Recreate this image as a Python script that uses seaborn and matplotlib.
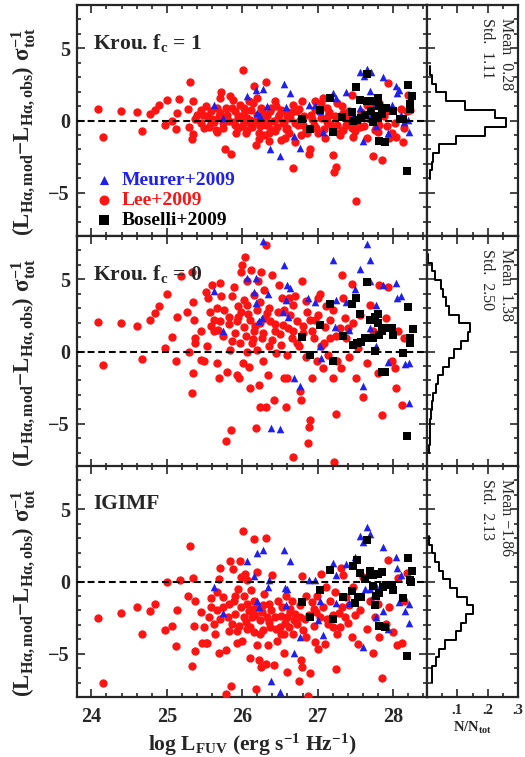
import numpy as np
import pandas as pd
import matplotlib
matplotlib.use("Agg")
import matplotlib.pyplot as plt
from matplotlib.ticker import MultipleLocator, FuncFormatter
import seaborn as sns

# -----------------------------
# Panel 1 : Krou. fc = 1
# -----------------------------
lee1_x = [24.09, 24.15, 24.39, 24.60, 24.67, 24.78, 24.84, 24.90, 24.98, 25.00,
          25.07, 25.12, 25.13, 25.16, 25.28, 25.30, 25.31, 25.33, 25.35, 25.35,
          25.38, 25.40, 25.45, 25.46, 25.48, 25.49, 25.52, 25.54, 25.56, 25.58,
          25.59, 25.60, 25.63, 25.65, 25.66, 25.67, 25.69, 25.70, 25.71, 25.72,
          25.74, 25.75, 25.77, 25.78, 25.80, 25.82, 25.84, 25.85, 25.86, 25.88,
          25.89, 25.90, 25.91, 25.92, 25.94, 25.95, 25.97, 25.98, 26.00, 26.01,
          26.02, 26.03, 26.04, 26.05, 26.06, 26.07, 26.09, 26.10, 26.11, 26.12,
          26.13, 26.14, 26.15, 26.16, 26.18, 26.19, 26.20, 26.21, 26.22, 26.22,
          26.23, 26.24, 26.25, 26.27, 26.29, 26.30, 26.31, 26.32, 26.33, 26.34,
          26.35, 26.36, 26.37, 26.38, 26.40, 26.42, 26.43, 26.44, 26.45, 26.46,
          26.47, 26.49, 26.51, 26.52, 26.54, 26.55, 26.57, 26.58, 26.58, 26.60,
          26.60, 26.62, 26.64, 26.66, 26.68, 26.68, 26.70, 26.70, 26.72, 26.74,
          26.75, 26.77, 26.78, 26.79, 26.80, 26.82, 26.84, 26.86, 26.88, 26.90,
          26.91, 26.93, 26.95, 26.96, 26.97, 26.98, 27.01, 27.02, 27.04, 27.05,
          27.07, 27.08, 27.10, 27.12, 27.12, 27.14, 27.15, 27.18, 27.20, 27.22,
          27.23, 27.25, 27.26, 27.26, 27.28, 27.30, 27.32, 27.33, 27.34, 27.36,
          27.38, 27.40, 27.42, 27.44, 27.45, 27.46, 27.47, 27.50, 27.51, 27.52,
          27.55, 27.56, 27.58, 27.60, 27.62, 27.65, 27.66, 27.69, 27.70, 27.73,
          27.75, 27.76, 27.78, 27.80, 27.82, 27.82, 27.86, 27.88, 27.91, 27.92,
          27.93, 27.95, 27.98, 28.02, 28.04, 28.10, 28.13, 28.15, 28.18, 28.20, 28.22]
lee1_y = [0.79, -1.12, 0.63, 0.56, -0.70, 0.47, 0.75, 1.05, -0.30, 1.40,
          0.00, -0.60, 0.51, 1.50, 0.82, -0.42, 2.66, -1.31, -0.93, 1.33,
          0.12, 0.40, -0.19, 0.75, 0.40, -0.54, 0.98, 0.28, -0.42, -0.20,
          0.63, 0.10, -0.07, -0.65, -0.80, 0.86, 0.28, 0.50, 1.57, 1.99,
          -0.19, -0.50, -1.94, 0.90, 0.35, 0.00, 1.73, -2.29, 0.90, 1.45,
          -0.07, -0.30, 0.63, -0.90, -0.54, 0.30, 1.05, 0.28, -0.40, 3.48,
          -0.07, 0.90, 0.63, -0.90, 0.20, -0.65, 1.33, -0.20, 0.05, 0.70,
          -0.42, 1.20, 2.38, -0.10, -1.71, 0.35, 1.57, 0.20, -0.89, -1.30,
          0.00, -0.40, 0.86, 0.50, -1.00, 0.10, 2.69, -0.30, 0.28, -0.30,
          -1.43, -0.90, 0.63, 0.90, -0.65, 0.00, -0.70, 1.33, 1.00, -0.42,
          0.20, 0.40, -1.36, 0.70, -0.19, -0.10, -1.24, 0.63, -0.60, -0.54,
          0.30, -0.90, 0.16, 0.60, -3.27, 1.10, -1.47, -0.20, 0.63, -0.30,
          0.80, 0.05, -1.00, 1.33, -0.30, 0.30, -0.65, -0.90, -2.29, -1.94,
          0.40, 0.10, -0.30, 0.80, 1.33, -0.50, -0.89, 0.63, 0.20, 1.21,
          1.57, -0.60, -1.24, -0.07, 0.90, 0.28, 0.60, -0.30, -2.41, -3.57,
          0.30, -3.22, -0.30, 1.20, -0.90, -1.00, 0.98, 0.50, -0.65, 0.16,
          -0.30, -0.20, 0.63, 0.30, 1.80, -0.50, -1.12, -0.70, -5.56, -0.19,
          0.20, -0.42, 0.60, 0.28, -0.40, 1.10, -1.20, 0.40, 0.10, -2.45,
          1.10, -0.65, -0.50, -0.77, 1.21, -0.30, -2.76, 0.30, 0.63, -0.40,
          2.62, -1.20, -0.89, -0.20, -1.12, 0.80, -1.47, -0.50, 0.63, 1.80, 0.70]
meu1_x = [25.63, 25.74, 26.06, 26.18, 26.20, 26.24, 26.28, 26.33, 26.37, 26.50,
          26.56, 26.58, 26.63, 26.69, 26.76, 26.88, 26.97, 27.03, 27.07, 27.21,
          27.25, 27.38, 27.45, 27.49, 27.56, 27.56, 27.60, 27.61, 27.65, 27.69,
          27.70, 27.71, 27.78, 27.78, 27.87, 27.93, 27.98, 28.04, 28.05, 28.08,
          28.11, 28.15, 28.20, 28.21]
meu1_y = [1.10, 0.16, 1.68, 2.08, 0.51, 0.28, 2.15, 0.98, -1.94, -2.45,
          2.50, 0.91, 1.92, -1.05, -1.89, 1.10, 1.10, 0.63, -0.77, 1.92,
          1.57, 1.96, 0.16, 2.38, 3.39, 0.86, -1.43, 3.08, 3.55, 0.16,
          2.03, 3.39, 1.21, -0.35, 3.01, -0.89, 1.10, 2.38, 1.92, 2.08,
          0.40, -0.12, 0.05, -0.77]
bos1_x = [26.79, 26.90, 27.03, 27.17, 27.20, 27.32, 27.46, 27.47, 27.51, 27.52,
          27.56, 27.57, 27.63, 27.65, 27.65, 27.71, 27.74, 27.74, 27.76, 27.80,
          27.80, 27.82, 27.82, 27.85, 27.89, 27.91, 28.00, 28.09, 28.13, 28.18,
          28.20, 28.22, 28.23, 28.25]
bos1_y = [0.12, -0.58, 0.70, 1.57, -0.82, 0.21, 0.56, 0.00, 2.31, 0.05,
          1.40, 0.16, 0.40, 3.20, 1.33, 0.63, 1.33, -0.07, 0.28, 1.57,
          0.16, 0.98, -1.43, 0.44, -1.52, 0.86, 0.63, 0.12, 0.12, -3.53,
          2.45, 0.82, 1.14, 1.68]
hist1_edges = [-4.05, -3.45, -2.85, -2.25, -1.65, -1.05, -0.45, 0.15, 0.75,
               1.35, 1.95, 2.55, 3.15, 3.75]
hist1_frac = [0.009, 0.016, 0.021, 0.040, 0.097, 0.191, 0.262, 0.224, 0.124,
              0.062, 0.029, 0.016, 0.009]

# -----------------------------
# Panel 2 : Krou. fc = 0
# -----------------------------
lee2_x = [24.09, 24.15, 24.39, 24.60, 24.67, 24.78, 24.84, 24.90, 24.98, 25.00,
          25.07, 25.12, 25.13, 25.19, 25.27, 25.30, 25.33, 25.33, 25.35, 25.35,
          25.36, 25.37, 25.38, 25.45, 25.46, 25.49, 25.52, 25.54, 25.55, 25.57,
          25.59, 25.60, 25.63, 25.66, 25.67, 25.69, 25.71, 25.71, 25.72, 25.75,
          25.78, 25.80, 25.82, 25.84, 25.85, 25.86, 25.89, 25.91, 25.93, 25.93,
          25.94, 25.96, 25.97, 25.98, 25.99, 26.00, 26.01, 26.02, 26.04, 26.06,
          26.07, 26.07, 26.09, 26.10, 26.11, 26.12, 26.13, 26.15, 26.15, 26.18,
          26.19, 26.20, 26.21, 26.22, 26.23, 26.24, 26.25, 26.26, 26.28, 26.29,
          26.31, 26.32, 26.33, 26.34, 26.35, 26.37, 26.40, 26.42, 26.44, 26.45,
          26.47, 26.49, 26.51, 26.53, 26.54, 26.56, 26.58, 26.59, 26.60, 26.62,
          26.64, 26.66, 26.68, 26.68, 26.70, 26.73, 26.75, 26.77, 26.78, 26.79,
          26.81, 26.84, 26.86, 26.87, 26.88, 26.90, 26.90, 26.92, 26.95, 26.97,
          26.99, 27.01, 27.03, 27.05, 27.07, 27.10, 27.11, 27.14, 27.17, 27.20,
          27.21, 27.22, 27.25, 27.26, 27.29, 27.31, 27.32, 27.34, 27.36, 27.38,
          27.42, 27.45, 27.47, 27.51, 27.53, 27.56, 27.60, 27.65, 27.69, 27.74,
          27.80, 27.82, 27.86, 27.91, 27.93, 27.98, 28.02, 28.04, 28.06, 28.12, 28.15,
          25.62, 25.68, 25.76, 25.83, 25.87, 25.95, 26.03, 26.05, 26.08, 26.14,
          26.17, 26.23, 26.27, 26.30, 26.36, 26.39, 26.43, 26.50, 26.55, 26.61,
          26.67, 26.72, 26.80, 26.85, 26.93, 27.00, 27.08, 27.16, 27.24, 27.40]
lee2_y = [2.03, -0.92, 1.96, 1.80, -0.51, 2.15, 2.66, 3.12, 0.23, 3.97,
          0.97, -0.69, 2.36, 5.20, 2.77, -0.05, 5.54, -2.89, -1.50, 3.46,
          2.19, 0.92, 0.58, 1.39, -0.58, -0.69, 4.11, 0.35, 3.74, 2.77,
          1.80, 4.62, 1.39, 3.00, -0.81, -1.85, 4.73, 2.08, 3.81, 1.04,
          -6.19, -1.39, 2.42, 0.12, -5.43, 3.81, 4.50, 1.27, -1.62, 2.08,
          3.12, -1.85, 0.58, 5.54, 2.77, 6.00, -0.81, 1.73, 6.58, 4.85,
          0.00, 3.23, -1.04, 2.19, -2.54, 5.66, 0.58, 3.93, 1.39, -5.31,
          2.89, 0.12, 4.85, -2.31, -3.81, 1.96, 5.54, 0.92, -0.69, 4.27,
          7.39, -3.81, 2.66, -1.62, 0.35, 2.08, 5.31, -3.35, 1.39, -0.12,
          2.77, 4.62, 0.46, 3.70, 1.85, -1.85, -3.81, -1.85, -0.23, 3.70,
          2.54, 0.92, -7.34, 1.39, 3.81, 2.08, 0.35, -2.77, -3.35, 4.85,
          1.27, -0.35, 2.72, -6.35, -5.20, -4.73, 2.19, -1.85, 0.92, 2.19,
          -0.69, 3.70, 3.97, 0.35, -1.15, 1.73, 3.12, -0.23, 0.92, -1.85,
          2.89, -7.62, -4.34, -0.69, 1.62, -1.15, 5.31, 3.70, 2.31, 0.92,
          -0.35, 4.66, 1.96, -1.85, 0.23, 2.54, -3.12, -0.81, 3.23, 1.39,
          -1.50, 4.62, -4.39, 2.31, 4.50, -0.69, -1.15, -2.54, 1.39, -3.70, 0.92,
          2.20, 1.50, 2.90, 1.90, 0.70, 2.40, 3.60, 1.10, 2.60, 0.90,
          1.80, 3.40, 1.30, 2.30, 3.00, 0.80, 1.90, 1.20, 2.90, 1.60,
          3.20, 0.60, 1.80, 3.50, 1.40, 2.50, 0.60, 2.20, 1.10, 1.60]
meu2_x = [25.63, 25.75, 26.06, 26.15, 26.18, 26.18, 26.22, 26.26, 26.28, 26.34,
          26.38, 26.50, 26.54, 26.56, 26.58, 26.59, 26.61, 26.64, 26.69, 26.77,
          26.87, 26.96, 27.03, 27.05, 27.21, 27.23, 27.25, 27.37, 27.41, 27.49,
          27.56, 27.60, 27.65, 27.69, 27.69, 27.70, 27.74, 27.78, 27.78, 27.87,
          27.93, 28.04, 28.05, 28.11, 28.16, 28.21, 28.21]
meu2_y = [4.16, 1.39, 5.08, 4.09, 5.08, 3.35, 2.08, 2.31, 7.67, 3.97,
          -5.31, -5.36, 2.77, 6.00, 3.58, 4.62, 2.36, 4.43, -1.85, -2.36,
          3.70, 3.46, 0.35, -0.42, 6.35, 1.73, 3.58, 3.46, 1.50, 4.34,
          5.73, -2.36, 7.46, 4.85, 1.62, 6.35, 1.04, 3.19, 0.35, 4.62,
          -0.76, 4.73, 3.70, 3.81, -0.88, -0.81, -3.58]
bos2_x = [26.79, 26.90, 27.03, 27.17, 27.20, 27.33, 27.46, 27.47, 27.51, 27.52,
          27.56, 27.58, 27.63, 27.65, 27.69, 27.74, 27.76, 27.76, 27.80, 27.80,
          27.82, 27.85, 27.85, 27.89, 27.91, 27.98, 28.00, 28.13, 28.18, 28.20,
          28.22, 28.23, 28.26]
bos2_y = [0.97, -0.23, 1.85, 3.28, -0.65, 1.04, 3.28, 0.46, 3.74, 0.58,
          2.59, 0.69, 0.92, 4.80, 2.19, 0.92, 0.05, 2.42, 2.59, 1.96,
          1.15, 1.39, -1.39, -1.39, 1.62, 1.66, 1.11, -0.12, -5.82, 3.05,
          0.58, 0.92, 1.57]
hist2_edges = [-7.05, -6.45, -5.85, -5.25, -4.65, -4.05, -3.45, -2.85, -2.25,
               -1.65, -1.05, -0.45, 0.15, 0.75, 1.35, 1.95, 2.55, 3.15, 3.75,
               4.35, 4.95, 5.55, 6.15, 6.75]
hist2_frac = [0.007, 0.009, 0.009, 0.010, 0.013, 0.016, 0.021, 0.029, 0.036,
              0.054, 0.071, 0.088, 0.112, 0.134, 0.143, 0.104, 0.073, 0.062,
              0.054, 0.047, 0.027, 0.016, 0.004]

# -----------------------------
# Panel 3 : IGIMF
# -----------------------------
lee3_x = [24.09, 24.15, 24.39, 24.60, 24.67, 24.78, 24.84, 24.98, 25.00, 25.07,
          25.12, 25.13, 25.17, 25.28, 25.31, 25.34, 25.35, 25.36, 25.37, 25.38,
          25.45, 25.47, 25.49, 25.52, 25.54, 25.56, 25.58, 25.59, 25.62, 25.64,
          25.66, 25.67, 25.69, 25.69, 25.71, 25.74, 25.75, 25.78, 25.79, 25.81,
          25.83, 25.84, 25.85, 25.86, 25.88, 25.89, 25.91, 25.93, 25.93, 25.94,
          25.96, 25.97, 25.98, 25.99, 26.00, 26.01, 26.02, 26.03, 26.04, 26.06,
          26.07, 26.07, 26.09, 26.10, 26.11, 26.12, 26.13, 26.15, 26.15, 26.16,
          26.18, 26.19, 26.20, 26.21, 26.22, 26.23, 26.24, 26.25, 26.26, 26.28,
          26.29, 26.31, 26.32, 26.33, 26.34, 26.36, 26.37, 26.40, 26.42, 26.44,
          26.46, 26.48, 26.50, 26.51, 26.53, 26.55, 26.56, 26.58, 26.59, 26.60,
          26.62, 26.64, 26.66, 26.68, 26.70, 26.73, 26.75, 26.77, 26.78, 26.79,
          26.79, 26.81, 26.84, 26.85, 26.87, 26.88, 26.90, 26.92, 26.95, 26.95,
          26.97, 26.99, 27.01, 27.03, 27.05, 27.07, 27.10, 27.11, 27.14, 27.17,
          27.20, 27.21, 27.23, 27.25, 27.26, 27.30, 27.31, 27.32, 27.34, 27.36,
          27.38, 27.42, 27.45, 27.47, 27.49, 27.53, 27.56, 27.60, 27.65, 27.69,
          27.73, 27.76, 27.80, 27.82, 27.86, 27.91, 27.93, 27.95, 28.00, 28.05,
          28.06, 28.12, 28.14, 28.18,
          25.70, 25.82, 25.90, 26.05, 26.14, 26.17, 26.27, 26.35, 26.38, 26.45,
          26.52, 26.57, 26.63, 26.69, 26.76, 26.83, 26.98, 27.12, 27.28, 27.40]
lee3_y = [-2.54, -7.02, -2.19, -1.78, -3.63, -2.06, -1.59, -3.39, 0.00, -3.09,
          -4.50, -1.96, 0.12, -0.97, 2.45, -5.82, 0.25, -3.05, -4.78, -1.32,
          -2.12, -4.27, -3.12, -4.27, -4.27, -2.47, -1.13, -1.78, -2.93, -3.63,
          -0.74, -1.96, 0.18, -4.97, 0.95, -1.09, -1.78, -7.78, -4.73, -2.47,
          -1.55, 1.45, -7.27, -2.93, 0.88, -1.32, -2.24, -4.27, -3.44, -0.51,
          -3.05, 1.41, 0.30, -1.78, -4.09, 3.53, -0.97, -2.47, 0.53, -1.55,
          -3.28, 0.07, -2.01, -5.29, -3.16, -0.62, -2.47, -1.32, -3.51, 2.93,
          -7.44, -4.43, 0.65, -1.78, -5.43, -2.70, -3.63, -5.94, -2.12, -3.39,
          -0.85, 3.03, -5.70, -2.47, -4.43, -1.55, -3.16, 0.42, -5.75, -2.47,
          -4.09, -1.32, -3.16, -3.67, -1.78, -4.97, -3.63, -0.97, -6.28, -2.47,
          -3.12, -1.89, -1.32, -3.63, -2.24, -2.93, -6.86, -2.47, -5.47, -5.94,
          0.35, -3.39, -0.97, -3.86, -7.90, -2.29, -6.35, -1.43, -3.05, -1.89,
          -4.20, -0.97, -4.66, -2.47, 0.53, -1.78, -4.36, -0.35, -2.93, -1.32,
          -2.29, -3.16, -0.74, -6.05, -3.63, -3.16, 0.95, -1.78, 0.42, -2.47,
          -1.09, -1.66, -3.86, -0.39, -2.29, -4.36, -1.96, 0.30, -3.28, -1.32,
          -4.97, -2.47, -1.55, -3.86, -6.67, -2.93, 1.50, -1.78, -3.51, -4.43,
          0.25, -4.27, -1.32, 0.58,
          -2.60, -3.40, -1.00, -2.80, -1.90, -2.30, -1.60, -2.80, -2.00, -3.30,
          -2.40, -2.90, -2.10, -2.70, -1.60, -2.60, -2.10, -2.60, -2.20, -2.90]
meu3_x = [25.63, 25.75, 26.06, 26.15, 26.19, 26.20, 26.22, 26.28, 26.34, 26.36,
          26.38, 26.50, 26.56, 26.57, 26.58, 26.60, 26.64, 26.69, 26.77, 26.88,
          26.96, 27.01, 27.03, 27.07, 27.21, 27.25, 27.25, 27.38, 27.41, 27.49,
          27.56, 27.60, 27.60, 27.63, 27.65, 27.70, 27.70, 27.74, 27.78, 27.78,
          27.87, 27.87, 27.93, 28.04, 28.05, 28.08, 28.11, 28.16, 28.21, 28.21]
meu3_y = [-0.39, -2.19, 1.41, 0.35, 1.96, -1.32, -1.78, 2.19, -0.35, 0.07,
          -6.91, -7.62, 2.15, -0.44, -1.66, -0.51, 1.45, -4.97, -3.86, 0.12,
          0.12, -2.66, -1.32, -3.74, 1.27, 0.48, -1.50, 1.22, -1.50, 1.69,
          3.12, 2.73, -4.55, -0.51, 3.76, 3.26, -0.51, -0.97, -2.47, -0.28,
          2.38, -2.01, -3.28, 1.69, 0.95, -1.43, 0.42, -2.01, -1.55, -2.89]
bos3_x = [26.79, 26.90, 27.03, 27.17, 27.20, 27.33, 27.46, 27.47, 27.49, 27.52,
          27.54, 27.56, 27.58, 27.63, 27.65, 27.70, 27.74, 27.74, 27.76, 27.78,
          27.80, 27.82, 27.82, 27.85, 27.87, 27.89, 27.91, 27.98, 28.00, 28.13,
          28.18, 28.20, 28.23, 28.24, 28.25]
bos3_y = [-1.43, -2.47, -0.58, 0.83, -2.59, -1.04, -0.67, 1.04, -1.50, 1.50,
          -1.04, 0.58, -1.09, 0.18, 2.89, 0.76, 0.42, -0.28, -1.66, -0.97,
          0.53, -0.81, -3.05, 0.65, -0.35, -3.16, -0.21, -0.21, -0.58, -1.13,
          -5.13, 1.64, 0.12, -0.05, 0.76]
hist3_edges = [-7.05, -6.45, -5.85, -5.25, -4.65, -4.05, -3.45, -2.85, -2.25,
               -1.65, -1.05, -0.45, 0.15, 0.75, 1.35, 1.95, 2.55, 3.15]
hist3_frac = [0.018, 0.018, 0.029, 0.040, 0.060, 0.096, 0.113, 0.127, 0.152,
              0.132, 0.099, 0.077, 0.054, 0.040, 0.027, 0.016, 0.007]

panel_labels = [r"Krou. f$_c$ = 1", r"Krou. f$_c$ = 0", "IGIMF"]
mean_labels = ["Mean  0.28", "Mean  1.38", "Mean \u22121.86"]
std_labels = ["Std.  1.11", "Std.  2.50", "Std.  2.13"]
survey_names = ["Meurer+2009", "Lee+2009", "Boselli+2009"]

# -----------------------------
# Style
# -----------------------------
sns.set_style("ticks")
plt.rcParams["font.family"] = ["Liberation Serif", "DejaVu Serif"]
plt.rcParams["font.weight"] = "bold"
plt.rcParams["axes.labelweight"] = "bold"
plt.rcParams["mathtext.fontset"] = "custom"
plt.rcParams["mathtext.rm"] = "Liberation Serif:bold"
plt.rcParams["mathtext.it"] = "Liberation Serif:bold:italic"
plt.rcParams["mathtext.bf"] = "Liberation Serif:bold"
plt.rcParams["mathtext.default"] = "rm"
plt.rcParams["axes.linewidth"] = 1.6

RED = "#ff1414"
BLUE = "#2020ee"
BLACK = "black"

W, H = 525, 757
fig = plt.figure(figsize=(W / 100, H / 100), dpi=100)


def px_axes(x0, x1, ytop, h):
    return fig.add_axes([x0 / W, 1 - (ytop + h) / H, (x1 - x0) / W, h / H])


panels = [
    (lee1_x, lee1_y, meu1_x, meu1_y, bos1_x, bos1_y, hist1_edges, hist1_frac),
    (lee2_x, lee2_y, meu2_x, meu2_y, bos2_x, bos2_y, hist2_edges, hist2_frac),
    (lee3_x, lee3_y, meu3_x, meu3_y, bos3_x, bos3_y, hist3_edges, hist3_frac),
]
row_tops = [5, 236, 466]
row_h = 231

for i, (lx, ly, mx, my, bx, by, edges, frac) in enumerate(panels):
    ax = px_axes(77, 427, row_tops[i], row_h)
    hax = px_axes(427, 518, row_tops[i], row_h)

    # scatter
    sns.scatterplot(x=lx, y=ly, marker="o", s=36, color=RED, linewidth=0,
                    ax=ax, legend=False, zorder=3)
    sns.scatterplot(x=mx, y=my, marker="^", s=30, color=BLUE, linewidth=0,
                    ax=ax, legend=False, zorder=4)
    sns.scatterplot(x=bx, y=by, marker="s", s=32, color=BLACK, linewidth=0,
                    ax=ax, legend=False, zorder=5)
    ax.axhline(0, color="black", lw=1.5, ls=(0, (3.3, 1.8)), zorder=6)

    ax.set_xlim(23.81, 28.45)
    ax.set_ylim(-8, 8)
    ax.xaxis.set_major_locator(MultipleLocator(1))
    ax.xaxis.set_minor_locator(MultipleLocator(0.2))
    ax.yaxis.set_major_locator(MultipleLocator(5))
    ax.yaxis.set_minor_locator(MultipleLocator(1))
    ax.tick_params(which="both", direction="in", top=True, right=True,
                   width=1.2, labelsize=14.5, labelbottom=(i == 2))
    ax.tick_params(which="major", length=6)
    ax.tick_params(which="minor", length=3)
    ax.tick_params(axis="x", pad=7)
    ax.tick_params(axis="y", pad=5)

    ax.set_ylabel(r"$(L_{H\alpha,mod}{-}L_{H\alpha,obs})\ \sigma_{tot}^{-1}$",
                  fontsize=16.5)
    ax.yaxis.set_label_coords(-0.115, 0.45)
    if i == 2:
        ax.set_xlabel(r"log L$_{FUV}$ (erg s$^{-1}$ Hz$^{-1}$)", fontsize=15.5,
                      labelpad=4)
    else:
        ax.set_xlabel("")

    ax.text(0.046, 0.835, panel_labels[i], transform=ax.transAxes,
            fontsize=15.5, ha="left", va="center")

    if i == 0:
        cols = ax.collections
        handles = [cols[1], cols[0], cols[2]]
        ax.legend(handles, survey_names, loc="lower left",
                  bbox_to_anchor=(0.055, 0.03), frameon=False, fontsize=14,
                  labelcolor=[BLUE, RED, BLACK], handlelength=0.8,
                  handletextpad=0.5, labelspacing=0.12, borderpad=0,
                  borderaxespad=0, markerscale=1.2)

    # histogram
    e = np.array(edges)
    hist_df = pd.DataFrame({"center": (e[:-1] + e[1:]) / 2, "frac": frac})
    sns.histplot(data=hist_df, y="center", weights="frac", bins=list(edges),
                 element="step", fill=False, color="black", linewidth=1.4,
                 ax=hax)
    hax.set_xlim(0, 0.3)
    hax.set_ylim(-8, 8)
    hax.set_ylabel("")
    hax.xaxis.set_major_locator(MultipleLocator(0.1))
    hax.xaxis.set_minor_locator(MultipleLocator(0.05))
    hax.yaxis.set_major_locator(MultipleLocator(5))
    hax.yaxis.set_minor_locator(MultipleLocator(1))
    hax.xaxis.set_major_formatter(
        FuncFormatter(lambda v, p: "" if v < 0.05 else ("%.1f" % v)[1:]))
    hax.tick_params(which="both", direction="in", top=True, right=True,
                    width=1.2, labelsize=10.5, labelleft=False,
                    labelbottom=(i == 2), pad=5)
    hax.tick_params(which="major", length=6)
    hax.tick_params(which="minor", length=3)
    if i == 2:
        hax.set_xlabel(r"N/N$_{tot}$", fontsize=10.5, labelpad=2)
    else:
        hax.set_xlabel("")

    hax.text(0.87, 0.945, mean_labels[i], transform=hax.transAxes,
             rotation=-90, ha="center", va="top", fontsize=11.5,
             fontweight="normal")
    hax.text(0.66, 0.945, std_labels[i], transform=hax.transAxes,
             rotation=-90, ha="center", va="top", fontsize=11.5,
             fontweight="normal")

plt.savefig("out.png", dpi=100)
plt.close()
